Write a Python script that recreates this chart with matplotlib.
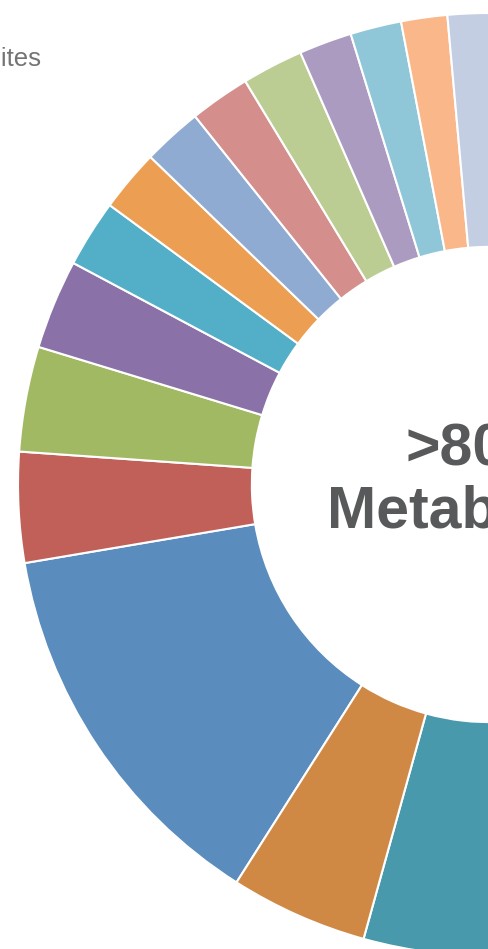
import matplotlib
matplotlib.use("Agg")
import matplotlib.pyplot as plt

# share of metabolites per class (percent), listed clockwise starting at the big blue slice
shares = [13.32, 3.78, 3.60, 3.07, 2.31, 2.13, 2.04, 2.07, 2.10, 1.81, 1.75, 1.58, 1.50,
          7.5, 6.8, 6.2, 5.9, 5.6, 5.0, 4.5, 4.0, 3.73,   # right half, outside the crop
          5.00, 4.71]
slice_colors = ['#5b8cbe', '#c15f59', '#a2b964', '#8a71a8', '#53afc7', '#ec9e52',
                '#90abd2', '#d48f8d', '#bccd94', '#ac9bc0', '#8fc6d8', '#f9b78a', '#c3cee2',
                '#e7c4c3', '#dae5c7', '#d4cbe0', '#c4e3eb', '#fcd9c2',
                '#3e6a9c', '#993d38', '#7a9440', '#5f4b80',
                '#4799ab', '#cf8945']
center_lines = ['>800+', 'Metabolites']
title_text = 'Metabolites'

W, H = 489, 949
fig = plt.figure(figsize=(W / 100, H / 100), dpi=100)

# donut centre sits on the right edge of the picture
cx, cy, R = 489.5, 484.5, 471.5
ax = fig.add_axes([(cx - R) / W, (H - cy - R) / H, 2 * R / W, 2 * R / H])
ax.pie(shares, colors=slice_colors, startangle=237.55, counterclock=False, radius=1,
       wedgeprops=dict(width=0.496, edgecolor='white', linewidth=1.5))
ax.set_xlim(-1, 1)
ax.set_ylim(-1, 1)
ax.set_aspect('equal')
ax.axis('off')

# texto del centro
fig.text(cx / W, (H - 465) / H, center_lines[0], ha='center', va='baseline',
         fontsize=42.5, fontweight='bold', color='#58595b', family='Liberation Sans')
fig.text(cx / W, (H - 527) / H, center_lines[1], ha='center', va='baseline',
         fontsize=42.5, fontweight='bold', color='#58595b', family='Liberation Sans')

# titulo cortado arriba a la izquierda
fig.text(42 / W, (H - 66.5) / H, title_text, ha='right', va='baseline',
         fontsize=18.5, color='#737476', family='Liberation Sans')

fig.savefig('out.png', dpi=100)
